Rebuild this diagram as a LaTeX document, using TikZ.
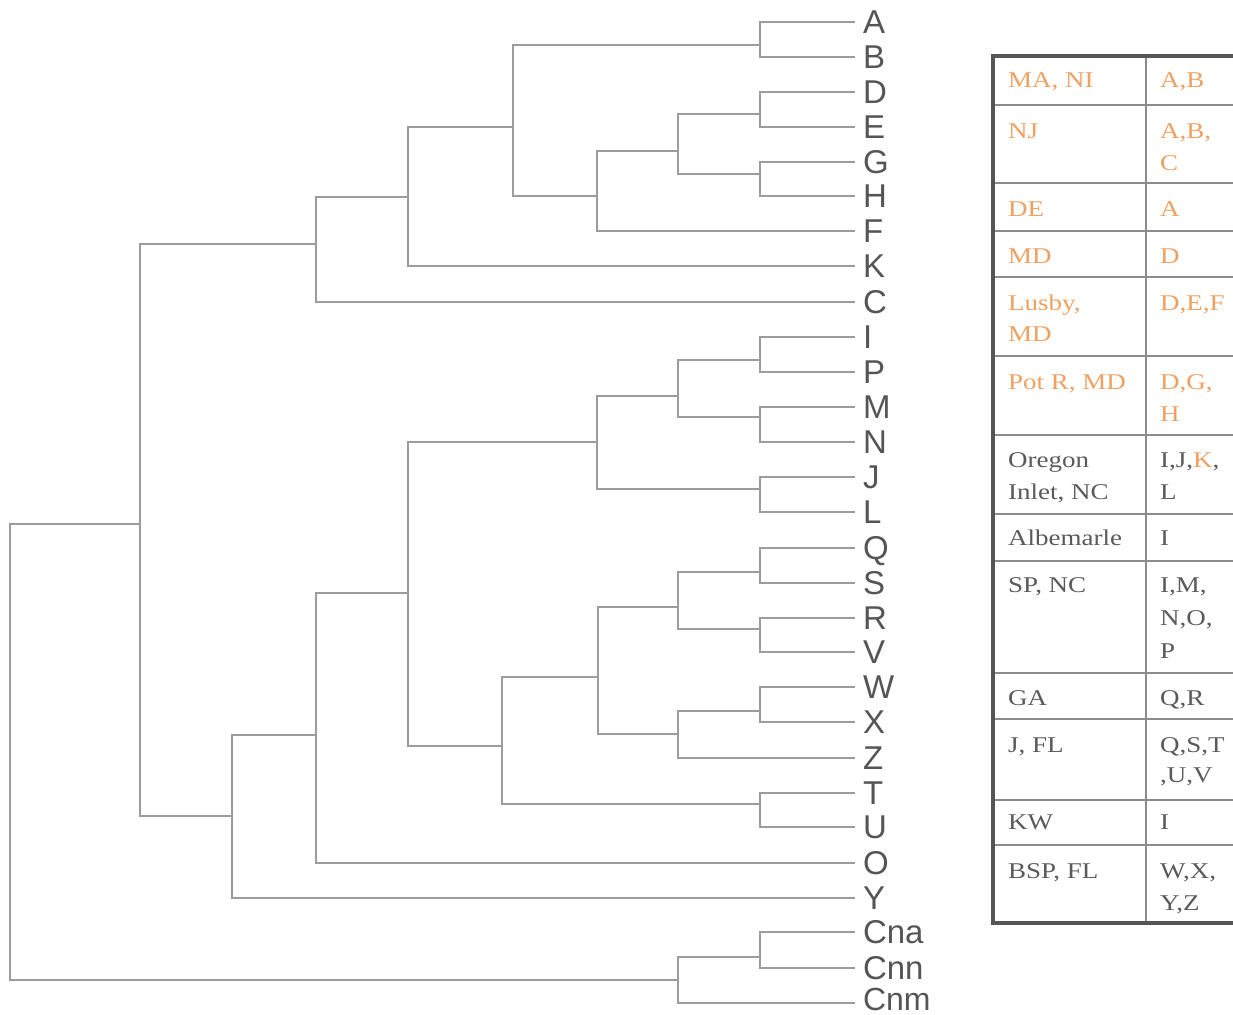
\documentclass[tikz,border=0pt]{standalone}
\usepackage{fontspec}
\setmainfont{Liberation Serif}
\newfontfamily\lblfont{Liberation Sans}
\newfontfamily\tabfont[FakeStretch=1.2]{Liberation Serif}
\definecolor{branch}{HTML}{9C9C9C}
\definecolor{lbl}{HTML}{555555}
\definecolor{org}{HTML}{F0A060}
\definecolor{tgray}{HTML}{5A5A5A}
\definecolor{frame}{HTML}{555555}
\definecolor{rulec}{HTML}{8C8C8C}
\newcommand\bjoin[3]{\draw[br] (#2) -- (#2 -| #1) -- (#3 -| #1) -- (#3);}
\begin{document}
\begin{tikzpicture}[x=1pt,y=-1pt,
  br/.style={draw=branch,line width=2pt},
  leaf/.style={anchor=west,inner sep=0pt,outer xsep=8pt,text height=23.6pt,text depth=0pt,
    font=\lblfont\fontsize{33}{33}\selectfont,text=lbl},
  tcell/.style={anchor=base west,inner sep=0pt,font=\tabfont\fontsize{22.5}{22.5}\selectfont},
  og/.style={tcell,text=org},
  gy/.style={tcell,text=tgray},
  tframe/.style={draw=frame,line width=4pt},
  trule/.style={draw=rulec,line width=2.5pt}]
\useasboundingbox (0,0) rectangle (1233,1014);
\clip (0,0) rectangle (1233,1014);
% leaves
\foreach \n/\y in {A/22,B/57,D/92,E/127,G/162,H/196,F/231,K/266,C/302,I/337,P/372,M/407,N/442,J/477,L/512,Q/548,S/583,R/618,V/652,W/687,X/722,Z/758,T/793,U/827,O/863,Y/898,Cna/932,Cnn/968}
  \node[leaf] (\n) at (855,\y) {\n};
\node[leaf,text height=14pt,font=\lblfont\fontsize{32}{32}\selectfont] (Cnm) at (855,1003) {Cnm};
% internal junctions
\coordinate (j1) at (760,45);
\coordinate (j2) at (760,114);
\coordinate (j3) at (760,174);
\coordinate (j4) at (678,151);
\coordinate (j5) at (597,196);
\coordinate (j6) at (513,127);
\coordinate (j7) at (408,197);
\coordinate (j8) at (316,244);
\coordinate (j9) at (760,360);
\coordinate (j10) at (760,417);
\coordinate (j11) at (678,396);
\coordinate (j12) at (760,489);
\coordinate (j13) at (597,442);
\coordinate (j14) at (760,572);
\coordinate (j15) at (760,629);
\coordinate (j16) at (678,607);
\coordinate (j17) at (760,711);
\coordinate (j18) at (678,734);
\coordinate (j19) at (598,677);
\coordinate (j20) at (760,804);
\coordinate (j21) at (502,746);
\coordinate (j22) at (408,593);
\coordinate (j23) at (316,735);
\coordinate (j24) at (232,816);
\coordinate (j25) at (140,524);
\coordinate (j26) at (760,957);
\coordinate (j27) at (678,980);
\coordinate (j28) at (10,750);
% branches
\bjoin{j1}{A.west}{B.west}
\bjoin{j2}{D.west}{E.west}
\bjoin{j3}{G.west}{H.west}
\bjoin{j4}{j2}{j3}
\bjoin{j5}{j4}{F.west}
\bjoin{j6}{j1}{j5}
\bjoin{j7}{j6}{K.west}
\bjoin{j8}{j7}{C.west}
\bjoin{j9}{I.west}{P.west}
\bjoin{j10}{M.west}{N.west}
\bjoin{j11}{j9}{j10}
\bjoin{j12}{J.west}{L.west}
\bjoin{j13}{j11}{j12}
\bjoin{j14}{Q.west}{S.west}
\bjoin{j15}{R.west}{V.west}
\bjoin{j16}{j14}{j15}
\bjoin{j17}{W.west}{X.west}
\bjoin{j18}{j17}{Z.west}
\bjoin{j19}{j16}{j18}
\bjoin{j20}{T.west}{U.west}
\bjoin{j21}{j19}{j20}
\bjoin{j22}{j13}{j21}
\bjoin{j23}{j22}{O.west}
\bjoin{j24}{j23}{Y.west}
\bjoin{j25}{j8}{j24}
\bjoin{j26}{Cna.west}{Cnn.west}
\bjoin{j27}{j26}{Cnm.west}
\bjoin{j28}{j25}{j27}
% table
\draw[trule] (1146,56) -- (1146,923);
\foreach \y in {105,183,231,277,356,435,514,561,673,719,800,845}
  \draw[trule] (993,\y) -- (1240,\y);
\draw[tframe] (1240,56) -- (993,56) -- (993,923) -- (1240,923);
% table text
\node[og] (r1a) at (1008,88) {MA, NI};
\node[og] (r1b) at (1160,88) {A,B};
\node[og] (r2a) at (1008,139) {NJ};
\node[og] (r2b) at (1160,139) {A,B,};
\node[og] (r2c) at (1160,170) {C};
\node[og] (r3a) at (1008,216) {DE};
\node[og] (r3b) at (1160,216) {A};
\node[og] (r4a) at (1008,263) {MD};
\node[og] (r4b) at (1160,263) {D};
\node[og] (r5a) at (1008,310) {Lusby,};
\node[og] (r5c) at (1008,341) {MD};
\node[og] (r5b) at (1160,310) {D,E,F};
\node[og] (r6a) at (1008,389) {Pot R, MD};
\node[og] (r6b) at (1160,389) {D,G,};
\node[og] (r6c) at (1160,421) {H};
\node[gy] (r7a) at (1008,467) {Oregon};
\node[gy] (r7c) at (1008,499) {Inlet, NC};
\node[gy] (r7b) at (1160,467) {I,J,\textcolor{org}{K},};
\node[gy] (r7d) at (1160,499) {L};
\node[gy] (r8a) at (1008,545) {Albemarle};
\node[gy] (r8b) at (1160,545) {I};
\node[gy] (r9a) at (1008,592) {SP, NC};
\node[gy] (r9b) at (1160,592) {I,M,};
\node[gy] (r9c) at (1160,625) {N,O,};
\node[gy] (r9d) at (1160,658) {P};
\node[gy] (r10a) at (1008,705) {GA};
\node[gy] (r10b) at (1160,705) {Q,R};
\node[gy] (r11a) at (1008,752) {J, FL};
\node[gy] (r11b) at (1160,752) {Q,S,T};
\node[gy] (r11c) at (1160,782) {,U,V};
\node[gy] (r12a) at (1008,829) {KW};
\node[gy] (r12b) at (1160,829) {I};
\node[gy] (r13a) at (1008,878) {BSP, FL};
\node[gy] (r13b) at (1160,878) {W,X,};
\node[gy] (r13c) at (1160,910) {Y,Z};
\end{tikzpicture}
\end{document}
